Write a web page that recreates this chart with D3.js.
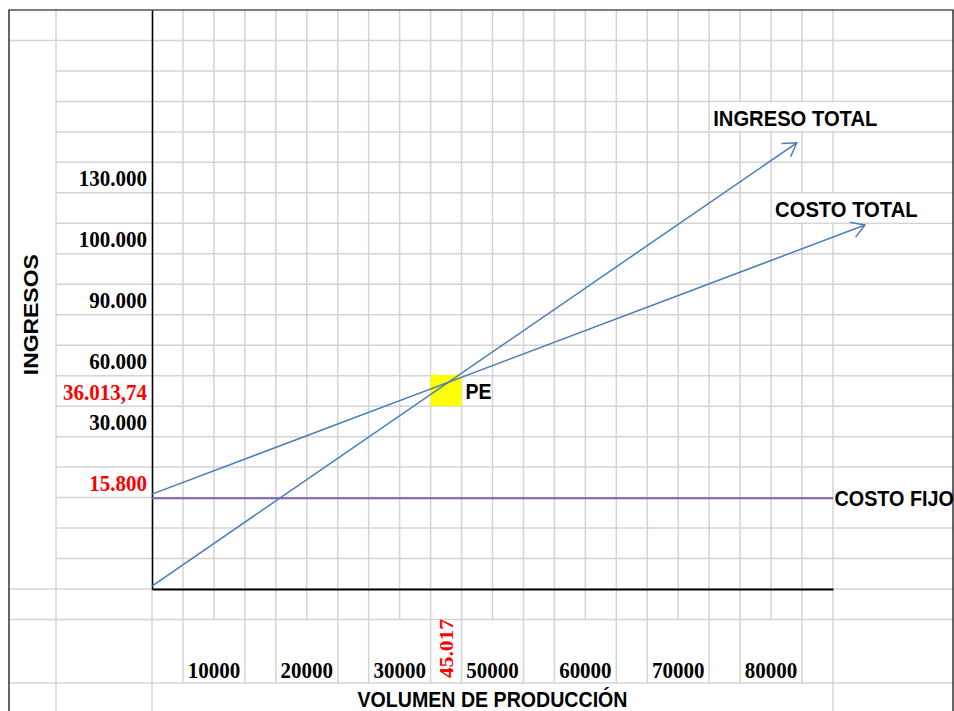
<!DOCTYPE html>
<html><head><meta charset="utf-8">
<script src="https://cdn.jsdelivr.net/npm/d3@7"></script>
<style>html,body{margin:0;padding:0;background:#fff;overflow:hidden}</style>
</head><body><svg id="c" width="954" height="711"></svg>
<script>
// ---------------- DATA ----------------
// [volumen de producción, ingresos]
const ingresoTotal = [[0, 520], [97900, 77600]];
const costoTotal   = [[0, 16500], [108250, 63300]];
const costoFijo    = [[0, 15800], [103400, 15800]];
const puntoEquilibrio = [45017, 36013.74];
const xDomainMax = 103400;
const yDomainMax = 100700;
const yTickLabels = ["130.000", "100.000", "90.000", "60.000", "36.013,74", "30.000", "15.800"];
const xTickLabels = ["10000", "20000", "30000", "45.017", "50000", "60000", "70000", "80000"];
const seriesLabels = ["INGRESO TOTAL", "COSTO TOTAL", "COSTO FIJO"];
const xTitle = "VOLUMEN DE PRODUCCIÓN";
const yTitle = "INGRESOS";
const peLabel = "PE";

// ---------------- LAYOUT (spreadsheet-like grid) ----------------
const W = 954, H = 711;
const borderL = 9, colAR = 56, plotL = 152, plotR = 833, borderR = 953, topY = 10, plotB = 589;
const nCols = 22, nRows = 19;
const colX = d3.scaleLinear().domain([0, nCols]).range([plotL, plotR]);
const rowY = d3.scaleLinear().domain([0, nRows]).range([topY, plotB]);
const row20 = rowY(20), tallB = 683;
const yLabelRows = [5, 7, 9, 11, 12, 13, 15];
const yLabelRed = [false, false, false, false, true, false, true];
const xLabelCells = [[1, 2], [4, 5], [7, 8], [9, 9], [10, 11], [13, 14], [16, 17], [19, 20]];
const xLabelRed = [false, false, false, true, false, false, false, false];
const labelCells = [{ col: 18, row: 3 }, { col: 20, row: 6 }];
const SY = 1.13; // vertical stretch of the text in the reference
const grid = "#d4d4d4", blue = "#4a7ebb", purple = "#8064a2";

const svg = d3.select("#c");
const x = d3.scaleLinear().domain([0, xDomainMax]).range([plotL, plotR]);
const y = d3.scaleLinear().domain([0, yDomainMax]).range([plotB, topY]);

// ---------------- GRID ----------------
const gG = svg.append("g").attr("stroke", grid).attr("stroke-width", 1.5);
function hl(y0, x0, x1) { gG.append("line").attr("x1", x0).attr("x2", x1).attr("y1", y0).attr("y2", y0); }
function vl(x0, y0, y1) { gG.append("line").attr("x1", x0).attr("x2", x0).attr("y1", y0).attr("y2", y1); }
hl(rowY(1), borderL, borderR);
for (let k = 2; k < nRows; k++) hl(rowY(k), colAR, borderR);
hl(plotB, borderL, borderR);
hl(row20, borderL, borderR);
hl(tallB, borderL, borderR);
vl(colAR, topY, H);
vl(plotL, plotB, H);
vl(plotR, topY, H);
const hiddenTall = new Set();
xLabelCells.forEach(([a, b]) => { for (let k = a + 1; k <= b; k++) hiddenTall.add(k); });
for (let k = 1; k < nCols; k++) {
  vl(colX(k), topY, row20);
  if (!hiddenTall.has(k)) vl(colX(k), row20, tallB);
}

// overflow text cells hide gridlines
labelCells.forEach(c => {
  svg.append("rect").attr("x", colX(c.col) + 1).attr("y", rowY(c.row) + 1)
    .attr("width", borderR - colX(c.col) - 2).attr("height", rowY(c.row + 1) - rowY(c.row) - 2)
    .attr("fill", "#fff");
});
svg.append("rect").attr("x", plotR + 1).attr("y", y(costoFijo[0][1]) - 12)
  .attr("width", borderR - plotR - 2).attr("height", 24).attr("fill", "#fff");

// outer border
svg.append("path").attr("d", `M${borderL},${H} V${topY} H${borderR} V${H}`)
  .attr("fill", "none").attr("stroke", "#000").attr("stroke-width", 1.2);

// PE cell
const peCol = Math.floor(colX.invert(x(puntoEquilibrio[0])));
const peRow = Math.floor(rowY.invert(y(puntoEquilibrio[1])));
svg.append("rect").attr("x", colX(peCol)).attr("y", rowY(peRow) - 1)
  .attr("width", colX(peCol + 1) - colX(peCol)).attr("height", rowY(peRow + 1) - rowY(peRow) + 1)
  .attr("rx", 2).attr("fill", "#ffff00");

// ---------------- AXES ----------------
svg.append("g").attr("transform", `translate(0,${plotB})`)
  .call(d3.axisBottom(x).tickValues([]).tickSizeOuter(0))
  .call(g => g.select(".domain").attr("stroke", "#000").attr("stroke-width", 1.8));
svg.append("g").attr("transform", `translate(${plotL},0)`)
  .call(d3.axisLeft(y).tickValues([]).tickSizeOuter(0))
  .call(g => g.select(".domain").attr("stroke", "#000").attr("stroke-width", 1.6));

// ---------------- LINES ----------------
const defs = svg.append("defs");
defs.append("marker").attr("id", "arr").attr("markerUnits", "userSpaceOnUse")
  .attr("viewBox", "-16 -10 20 20").attr("markerWidth", 20).attr("markerHeight", 20)
  .attr("refX", 0).attr("refY", 0).attr("orient", "auto")
  .append("path").attr("d", "M-13,-8 L0,0 L-13,8").attr("fill", "none")
  .attr("stroke", blue).attr("stroke-width", 1.5);
const line = d3.line().x(d => x(d[0])).y(d => y(d[1]));
svg.append("path").datum(costoFijo).attr("d", line).attr("fill", "none")
  .attr("stroke", purple).attr("stroke-width", 2);
[ingresoTotal, costoTotal].forEach(s => {
  svg.append("path").datum(s).attr("d", line).attr("fill", "none")
    .attr("stroke", blue).attr("stroke-width", 1.5).attr("marker-end", "url(#arr)");
});

// ---------------- TEXT ----------------
function txt(s, tx, ty, o) {
  return svg.append("text")
    .attr("transform", `translate(${tx},${ty}) scale(1,${SY})${o.rot ? " rotate(-90)" : ""}`)
    .attr("font-family", o.serif ? "'Liberation Serif','Times New Roman',serif" : "'Liberation Sans',Arial,sans-serif")
    .attr("font-weight", "bold").attr("font-size", o.size)
    .attr("text-anchor", o.anchor || "start").attr("fill", o.color || "#000")
    .text(s);
}
yTickLabels.forEach((s, i) => {
  txt(s, plotL - 5, rowY(yLabelRows[i] + 1) - 6.5, { serif: true, size: 21, anchor: "end", color: yLabelRed[i] ? "#ff0000" : "#000" });
});
xTickLabels.forEach((s, i) => {
  const [a, b] = xLabelCells[i];
  if (a === b) {
    txt(s, colX(b + 1) - 9, tallB - 5, { serif: true, size: 19, anchor: "start", rot: true, color: xLabelRed[i] ? "#ff0000" : "#000" });
  } else {
    txt(s, (colX(a) + colX(b + 1)) / 2, tallB - 5, { serif: true, size: 21, anchor: "middle", color: xLabelRed[i] ? "#ff0000" : "#000" });
  }
});
labelCells.forEach((c, i) => {
  txt(seriesLabels[i], colX(c.col) + 4, rowY(c.row + 1) - 6, { size: 20.2 });
});
txt(seriesLabels[2], plotR + 1.5, y(costoFijo[0][1]) + 7.5, { size: 19.8 });
txt(peLabel, colX(peCol + 1) + 4, rowY(peRow + 1) - 7, { size: 19.5 });
txt(xTitle, (plotL + plotR) / 2, 707, { size: 19.6, anchor: "middle" });
txt(yTitle, 38, (rowY(1) + plotB) / 2, { size: 20.3, anchor: "middle", rot: true });
</script>
</body></html>
